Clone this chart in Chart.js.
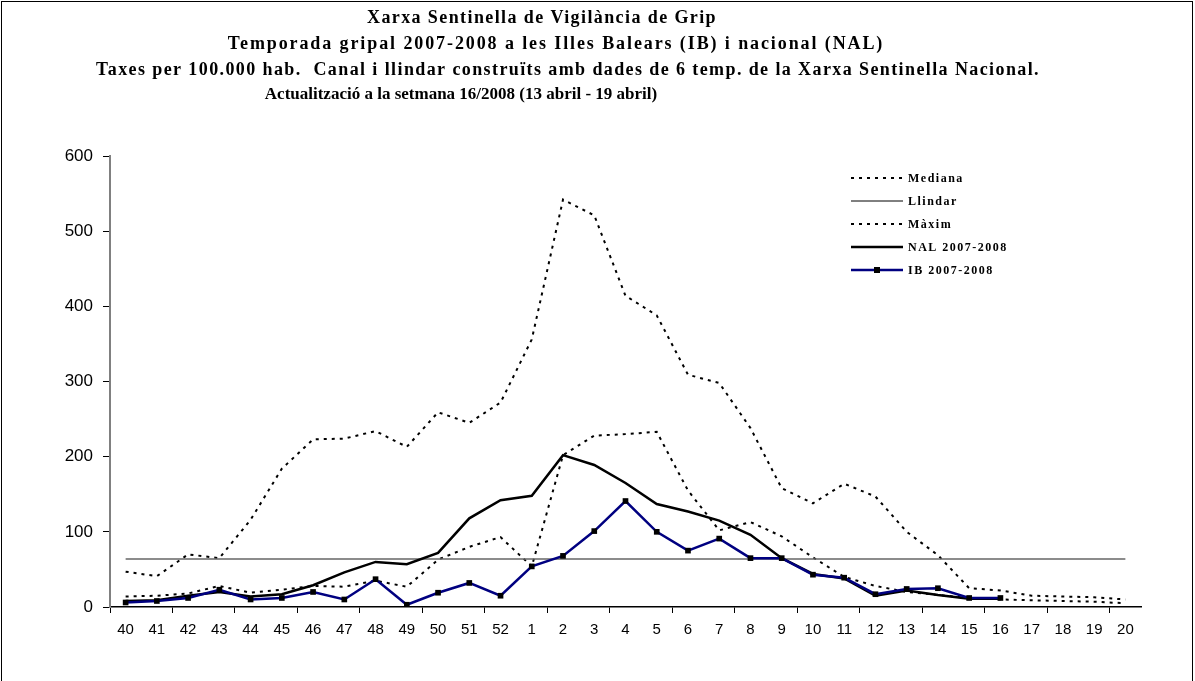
<!DOCTYPE html>
<html>
<head>
<meta charset="utf-8">
<script src="https://cdn.jsdelivr.net/npm/chart.js@4.4.1/dist/chart.umd.min.js"></script>
<style>
    html, body { margin: 0; padding: 0; background: #fff; overflow: hidden; }
    #wrap { position: relative; width: 1195px; height: 681px; }
    #grafic { position: absolute; left: 0; top: 0; }
    #marc {
        position: absolute; left: 1px; top: 1px; width: 1190px; height: 720px;
        border: 1.5px solid #000; pointer-events: none;
    }
</style>
</head>
<body>
<div id="wrap">
    <canvas id="grafic" width="1195" height="681"></canvas>
    <div id="marc"></div>
</div>
<script>
// setmanes de la temporada (40/2007 - 20/2008)
const setmanes = ['40', '41', '42', '43', '44', '45', '46', '47', '48', '49', '50', '51', '52',
    '1', '2', '3', '4', '5', '6', '7', '8', '9', '10', '11', '12', '13', '14', '15', '16', '17', '18', '19', '20'];

// canal endèmic (6 temporades de la xarxa nacional)
const mediana = [14, 15, 18, 28, 19, 23, 28, 27, 35, 27, 63, 80, 93, 54, 202, 228, 230, 233, 155, 102,
    113, 94, 66, 40, 28, 20, 16, 12, 10, 9, 8, 7, 5];
const maxim = [47, 41, 70, 65, 116, 184, 223, 224, 234, 213, 259, 245, 272, 356, 542, 521, 414, 388, 309, 298,
    238, 158, 138, 164, 147, 100, 69, 25, 22, 15, 14, 13, 10];
const llindar = [64, 64, 64, 64, 64, 64, 64, 64, 64, 64, 64, 64, 64, 64, 64, 64, 64, 64, 64, 64,
    64, 64, 64, 64, 64, 64, 64, 64, 64, 64, 64, 64, 64];

// taxes 2007-2008 (fins a la setmana 16)
const nal = [8, 9, 15, 20, 14, 17, 29, 46, 60, 57, 72, 118, 142, 148, 202, 189, 165, 137, 127, 115,
    96, 65, 44, 38, 15, 22, 16, 11, 11];
const ib = [6, 8, 12, 23, 10, 12, 20, 10, 37, 3, 19, 32, 15, 54, 68, 101, 141, 100, 75, 91,
    65, 65, 43, 39, 17, 24, 25, 12, 12];

const yTicks = [0, 100, 200, 300, 400, 500, 600];

const titol = [
    'Xarxa Sentinella de Vigilància de Grip',
    'Temporada gripal 2007-2008 a les Illes Balears (IB) i nacional (NAL)',
    'Taxes per 100.000 hab.  Canal i llindar construïts amb dades de 6 temp. de la Xarxa Sentinella Nacional.',
    'Actualització a la setmana 16/2008 (13 abril - 19 abril)'
];

const FONT_SERIF = '"Liberation Serif", "Times New Roman", serif';
const FONT_SANS = '"Liberation Sans", Arial, sans-serif';

// títol en quatre línies (no totes centrades igual)
const titolPlugin = {
    id: 'titol',
    afterDraw(chart) {
        const ctx = chart.ctx;
        const centres = [542, 556, 568, 461];
        const ys = [18, 44, 70, 95];
        const mides = [18, 18, 18, 17];
        const espais = [1.4, 1.9, 1.4, 0];
        ctx.save();
        ctx.fillStyle = '#000';
        ctx.textAlign = 'center';
        ctx.textBaseline = 'middle';
        titol.forEach((t, i) => {
            ctx.font = 'bold ' + mides[i] + 'px ' + FONT_SERIF;
            if ('letterSpacing' in ctx) ctx.letterSpacing = espais[i] + 'px';
            ctx.fillText(t, centres[i], ys[i]);
        });
        ctx.restore();
    }
};

// llegenda dins l'àrea del gràfic
const llegendaPlugin = {
    id: 'llegenda',
    afterDraw(chart) {
        const ctx = chart.ctx;
        const x0 = 851, x1 = 903, y0 = 178, pas = 23;
        ctx.save();
        ctx.font = 'bold 12px ' + FONT_SERIF;
        ctx.textBaseline = 'middle';
        ctx.textAlign = 'left';
        if ('letterSpacing' in ctx) ctx.letterSpacing = '1.5px';
        const ordre = ['Mediana', 'Llindar', 'Màxim', 'NAL 2007-2008', 'IB 2007-2008'];
        ordre.forEach((nom, i) => {
            const ds = chart.data.datasets.find(d => d.label === nom);
            const y = y0 + i * pas;
            ctx.beginPath();
            ctx.strokeStyle = nom === 'Llindar' ? '#000' : ds.borderColor;
            ctx.lineWidth = nom === 'Llindar' ? 1 : ds.borderWidth;
            ctx.setLineDash(ds.borderDash || []);
            ctx.moveTo(x0, y);
            ctx.lineTo(x1, y);
            ctx.stroke();
            ctx.setLineDash([]);
            if (ds.pointRadius > 0) {
                ctx.fillStyle = ds.pointBackgroundColor;
                ctx.fillRect((x0 + x1) / 2 - 3, y - 3, 6, 6);
            }
            ctx.fillStyle = '#000';
            ctx.fillText(nom, x1 + 5, y + 1);
        });
        ctx.restore();
    }
};

const ctx = document.getElementById('grafic').getContext('2d');
new Chart(ctx, {
    type: 'line',
    data: {
        labels: setmanes,
        datasets: [
            {
                label: 'IB 2007-2008', data: ib, order: 0,
                borderColor: '#000080', borderWidth: 2.5,
                pointStyle: 'rect', pointRadius: 4, pointBackgroundColor: '#000', pointBorderColor: '#000', pointBorderWidth: 0
            },
            {
                label: 'NAL 2007-2008', data: nal, order: 1,
                borderColor: '#000', borderWidth: 2.5, pointRadius: 0
            },
            {
                label: 'Llindar', data: llindar, order: 2,
                borderColor: '#666', borderWidth: 1.5, pointRadius: 0
            },
            {
                label: 'Mediana', data: mediana, order: 3,
                borderColor: '#000', borderWidth: 2, borderDash: [3, 5], borderCapStyle: 'butt', pointRadius: 0
            },
            {
                label: 'Màxim', data: maxim, order: 4,
                borderColor: '#000', borderWidth: 2, borderDash: [3, 5], borderCapStyle: 'butt', pointRadius: 0
            }
        ]
    },
    options: {
        responsive: false,
        animation: false,
        events: [],
        elements: { line: { tension: 0, fill: false } },
        layout: { padding: { left: 0, right: 54, top: 156, bottom: 0 } },
        plugins: {
            legend: { display: false },
            title: { display: false },
            tooltip: { enabled: false }
        },
        scales: {
            x: {
                offset: true,
                afterFit(scale) { scale.height = 74; },
                border: { color: '#000', width: 1.5 },
                grid: {
                    offset: true,
                    drawOnChartArea: false,
                    tickLength: 6,
                    color: c => (c.index % 2 === 0 ? '#000' : 'rgba(0,0,0,0)')
                },
                ticks: {
                    color: '#000',
                    font: { family: FONT_SANS, size: 15 },
                    maxRotation: 0,
                    autoSkip: false,
                    padding: 8
                }
            },
            y: {
                min: 0,
                max: 600,
                afterFit(scale) { scale.width = 110; },
                afterBuildTicks(scale) { scale.ticks = yTicks.map(v => ({ value: v })); },
                border: { color: '#808080', width: 2 },
                grid: {
                    drawOnChartArea: false,
                    tickLength: 7,
                    color: '#000'
                },
                ticks: {
                    color: '#000',
                    font: { family: FONT_SANS, size: 17 },
                    padding: 10
                }
            }
        }
    },
    plugins: [titolPlugin, llegendaPlugin]
});
</script>
</body>
</html>
